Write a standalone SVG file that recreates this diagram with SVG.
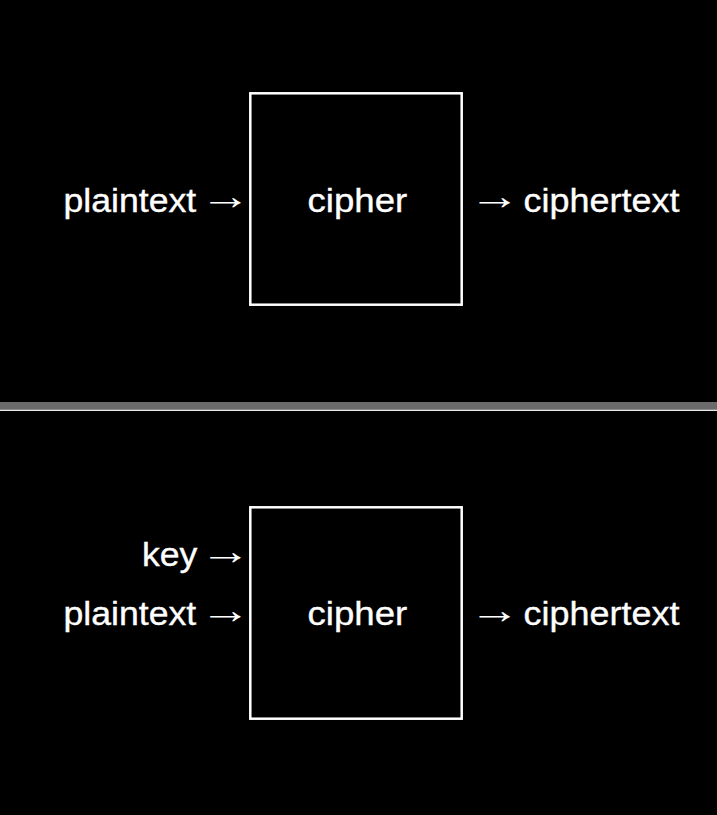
<svg xmlns="http://www.w3.org/2000/svg" width="717" height="815" viewBox="0 0 717 815">
<style>
.bg{fill:#000}
.box{fill:none;stroke:#fff;stroke-width:2.5}
.t{font-family:"Liberation Sans",Arial,sans-serif;font-size:33px;fill:#fff;stroke:#fff;stroke-width:0.35}
.a{font-family:"Liberation Sans",Arial,sans-serif;font-size:38px;fill:#fff}
.e{text-anchor:end}
</style>
<rect class="bg" x="0" y="0" width="717" height="815"/>
<g id="separator">
<rect x="0" y="402" width="717" height="7.5" fill="#6b6b6b"/>
<rect x="0" y="409.5" width="717" height="1.5" fill="#e6e6e6"/>
</g>
<g id="top-cipher">
<rect class="box" x="250.3" y="93.3" width="211.4" height="211.4"/>
<text class="t" transform="translate(307.5,212) scale(1.11,1)">cipher</text>
</g>
<g id="connectors">
<text class="t" transform="translate(63.5,212) scale(1.08,1)">plaintext</text>
<text class="a e" transform="translate(251,208.7) scale(1.35,1)">→</text>
<text class="a" transform="translate(469,208.7) scale(1.35,1)">→</text>
<text class="t" transform="translate(523.5,212) scale(1.09,1)">ciphertext</text>
<text class="t" transform="translate(142,566) scale(1.08,1)">key</text>
<text class="a e" transform="translate(251,564) scale(1.35,1)">→</text>
<text class="t" transform="translate(63.5,625) scale(1.08,1)">plaintext</text>
<text class="a e" transform="translate(251,622.7) scale(1.35,1)">→</text>
<text class="a" transform="translate(469,622.7) scale(1.35,1)">→</text>
<text class="t" transform="translate(523.5,625) scale(1.09,1)">ciphertext</text>
</g>
<g id="bottom-cipher">
<rect class="box" x="250.3" y="507.3" width="211.4" height="211.4"/>
<text class="t" transform="translate(307.5,625) scale(1.11,1)">cipher</text>
</g>
</svg>
